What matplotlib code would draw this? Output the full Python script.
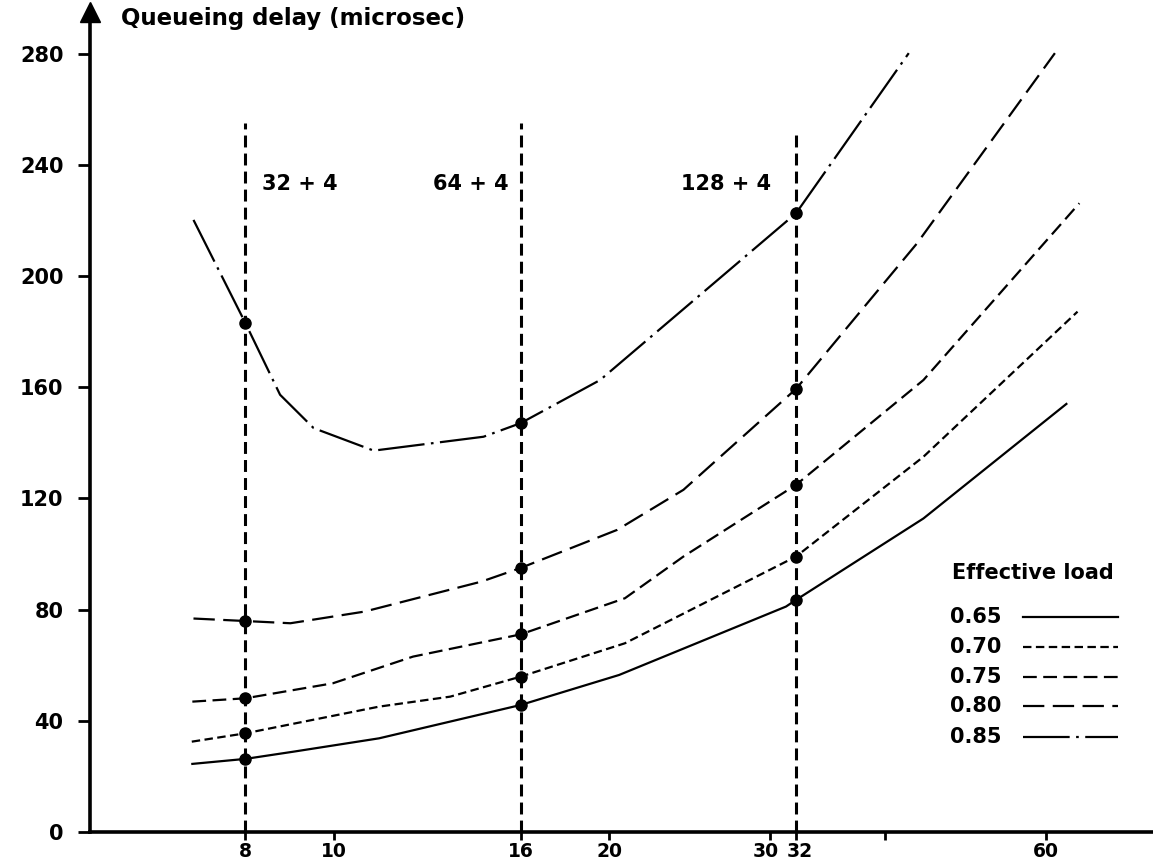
import matplotlib
matplotlib.use('Agg')
import matplotlib.pyplot as plt
from matplotlib.lines import Line2D
from matplotlib.transforms import ScaledTranslation

# Data (message size in bytes vs queueing delay)
loads = ['0.65', '0.70', '0.75', '0.80', '0.85']
x_065 = [7.0, 8, 9.03, 11.2, 16, 20.5, 31.2, 32, 44.1, 63.2]
y_065 = [24.5, 26.3, 28.9, 33.7, 45.7, 56.5, 81.1, 83.5, 112.8, 154.0]
x_070 = [6.99, 8, 11.2, 13.4, 16, 20.8, 32, 44.1, 65.0]
y_070 = [32.5, 35.5, 45.1, 48.7, 55.9, 67.9, 99.1, 135.0, 187.2]
x_075 = [7.0, 8, 9.97, 12.2, 16, 20.8, 24.1, 32, 44.1, 65.3]
y_075 = [46.9, 48.1, 53.5, 63.1, 71.1, 84.1, 99.1, 124.9, 162.6, 226.2]
x_080 = [7.02, 8, 8.96, 10.8, 14.5, 16, 20.4, 24.1, 32, 43.4, 61.4]
y_080 = [76.8, 75.9, 75.1, 79.3, 90.1, 95.0, 108.7, 123.1, 159.4, 211.8, 280.2]
x_085 = [7.02, 8, 8.73, 9.5, 11.05, 14.57, 16, 19.54, 32, 42.5]
y_085 = [220.2, 183.1, 157.3, 145.3, 137.2, 142.2, 147.1, 162.6, 222.6, 280.2]

packet_sizes = [8, 16, 32]
packet_labels = ['32 + 4', '64 + 4', '128 + 4']
line_tops = [255, 255, 252]

x_ticks = [8, 10, 16, 20, 30, 32, 40, 60]
x_tick_labels = ['8', '10', '16', '20', '30', '32', '', '60']
y_ticks = [0, 40, 80, 120, 160, 200, 240, 280]

series = [(x_065, y_065), (x_070, y_070), (x_075, y_075), (x_080, y_080), (x_085, y_085)]
dash_styles = [(None, None), (3.8, 2.0), (6.2, 2.9), (9.6, 3.8), (21.0, 2.9, 1.2, 2.9)]

W, H = 1153, 865
fig = plt.figure(figsize=(W / 100, H / 100), dpi=100)
ax = fig.add_axes([90 / W, 1 - 832 / H, 1 - 90 / W, (832 - 12) / H])

ax.set_xscale('log')
ax.set_xlim(5.41, 78.6)
ax.set_ylim(0, 295)

lw = 1.6
for (xs, ys), dash in zip(series, dash_styles):
    marks = [i for i, v in enumerate(xs) if v in packet_sizes]
    line, = ax.plot(xs, ys, color='k', lw=lw, marker='o', ms=8,
                    markevery=marks, clip_on=False)
    if dash[0] is not None:
        line.set_dashes(dash)

# vertical dashed reference lines
for xv, top in zip(packet_sizes, line_tops):
    ax.plot([xv, xv], [0, top], color='k', lw=2.2, dashes=(3.9, 2.0))

font = dict(fontsize=15, fontweight='bold', family='DejaVu Sans')
ax.annotate(packet_labels[0], xy=(packet_sizes[0], 233), xytext=(12, 0),
            textcoords='offset points', va='center', ha='left', **font)
ax.annotate(packet_labels[1], xy=(packet_sizes[1], 233), xytext=(-9, 0),
            textcoords='offset points', va='center', ha='right', **font)
ax.annotate(packet_labels[2], xy=(packet_sizes[2], 233), xytext=(-18, 0),
            textcoords='offset points', va='center', ha='right', **font)

# axes styling
for s in ['top', 'right']:
    ax.spines[s].set_visible(False)
ax.spines['left'].set_linewidth(2.6)
ax.spines['bottom'].set_linewidth(2.6)
ax.plot(0, 1, marker='^', ms=14, color='k', transform=ax.transAxes, clip_on=False)

ax.set_xticks(x_ticks)
ax.set_xticklabels(x_tick_labels)
ax.xaxis.set_minor_locator(matplotlib.ticker.NullLocator())
ax.set_yticks(y_ticks)
ax.tick_params(axis='both', width=2)
ax.tick_params(axis='x', length=6, pad=1.5, labelsize=13.5)
ax.tick_params(axis='y', length=9, pad=10, labelsize=15)
for lab in ax.get_xticklabels() + ax.get_yticklabels():
    lab.set_fontweight('bold')

# nudge the crowded 30 / 32 labels apart
xlabs = ax.get_xticklabels()
xlabs[4].set_transform(xlabs[4].get_transform() + ScaledTranslation(-3 / 72, 0, fig.dpi_scale_trans))
xlabs[5].set_transform(xlabs[5].get_transform() + ScaledTranslation(3 / 72, 0, fig.dpi_scale_trans))

fig.text(121 / W, 1 - 18 / H, 'Queueing delay (microsec)', va='center', ha='left',
         fontsize=16.5, fontweight='bold', family='DejaVu Sans')

# legend drawn by hand to keep label-before-line layout
fig.text(952 / W, 1 - 573 / H, 'Effective load', va='center', ha='left', **font)
rows = [617, 647, 677, 706, 737]
for lab, dash, py in zip(loads, dash_styles, rows):
    fig.text(950 / W, 1 - py / H, lab, va='center', ha='left', **font)
    ln = Line2D([1023 / W, 1118 / W], [1 - py / H, 1 - py / H], color='k', lw=lw,
                transform=fig.transFigure)
    if dash[0] is not None:
        ln.set_dashes(dash)
    fig.add_artist(ln)

fig.savefig('out.png', dpi=100)
